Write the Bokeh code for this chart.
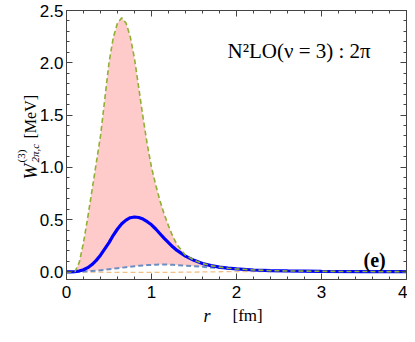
import math
from bokeh.plotting import figure
from bokeh.models import Range1d, LinearAxis, Label, ColumnDataSource, SingleIntervalTicker, NumeralTickFormatter
from bokeh.embed import file_html
from bokeh.resources import INLINE

# ---- data ----
r = [0.0, 0.05, 0.1, 0.15, 0.2, 0.25, 0.3, 0.35, 0.4, 0.45, 0.5, 0.55, 0.6, 0.65, 0.7,
     0.75, 0.8, 0.85, 0.9, 0.95, 1.0, 1.05, 1.1, 1.15, 1.2, 1.25, 1.3, 1.4, 1.5, 1.6,
     1.7, 1.8, 1.9, 2.0, 2.2, 2.4, 2.6, 2.8, 3.0, 3.5, 4.0]
upper = [0.0, 0.0, 0.003, 0.09, 0.28, 0.52, 0.78, 1.04, 1.30, 1.65, 2.0, 2.24, 2.38, 2.43, 2.38,
         2.25, 2.04, 1.76, 1.48, 1.22, 1.0, 0.83, 0.68, 0.55, 0.44, 0.34, 0.26, 0.16, 0.112, 0.08,
         0.06, 0.045, 0.035, 0.028, 0.018, 0.012, 0.009, 0.007, 0.005, 0.003, 0.002]
central = [0.0, 0.0, 0.002, 0.008, 0.02, 0.04, 0.07, 0.11, 0.16, 0.22, 0.28, 0.35, 0.41, 0.46, 0.495,
           0.518, 0.525, 0.52, 0.505, 0.48, 0.45, 0.41, 0.365, 0.32, 0.28, 0.24, 0.205, 0.15, 0.11, 0.08,
           0.06, 0.045, 0.035, 0.028, 0.018, 0.012, 0.009, 0.007, 0.005, 0.003, 0.002]
lower = [0.0, 0.0, 0.001, 0.002, 0.004, 0.006, 0.009, 0.012, 0.016, 0.02, 0.025, 0.03, 0.035, 0.04, 0.045,
         0.05, 0.054, 0.058, 0.062, 0.065, 0.067, 0.069, 0.07, 0.07, 0.069, 0.067, 0.065, 0.06, 0.054, 0.048,
         0.042, 0.037, 0.032, 0.027, 0.018, 0.012, 0.009, 0.007, 0.005, 0.003, 0.002]
other = [0.0, 0.0, -0.001, -0.001, -0.002, -0.002, -0.003, -0.003, -0.003, -0.004, -0.004, -0.004, -0.004, -0.005, -0.005,
         -0.005, -0.005, -0.005, -0.005, -0.005, -0.005, -0.005, -0.005, -0.005, -0.005, -0.004, -0.004, -0.003, -0.002, -0.001,
         0.0, 0.001, 0.002, 0.003, 0.003, 0.003, 0.003, 0.003, 0.003, 0.002, 0.002]

x_lim = (0, 4)
y_lim = (-0.073, 2.5)
x_ticks_step = 1
y_ticks_step = 0.5
panel_text = "N²LO(ν = 3) : 2π"
panel_tag = "(e)"

src = ColumnDataSource(dict(r=r, upper=upper, central=central, lower=lower, other=other))

AX = "#444444"
W, H = 407, 326
# plot box in canvas pixels (left, right, top, bottom)
BL, BR, BT, BB = 66, 406, 10, 279
sx = (BR - BL) / (x_lim[1] - x_lim[0])
sy = (BB - BT) / (y_lim[1] - y_lim[0])
xr = Range1d(x_lim[0] - BL / sx, x_lim[1] + (W - BR) / sx)
yr = Range1d(y_lim[0] - (H - BB) / sy, y_lim[1] + BT / sy)

p = figure(width=W, height=H, output_backend="svg", toolbar_location=None,
           x_range=xr, y_range=yr, x_axis_location=None, y_axis_location=None,
           min_border_left=0, min_border_right=0, min_border_top=0, min_border_bottom=0,
           title_location=None)
p.grid.visible = False
p.outline_line_color = None
p.border_fill_color = "white"
p.background_fill_color = "white"

p.varea(x="r", y1="lower", y2="upper", source=src, fill_color="#ffcaca", fill_alpha=1.0)
p.line(x="r", y="other", source=src, line_color="#f0c08a", line_width=1.3, line_dash="5 3")
p.line(x="r", y="lower", source=src, line_color="#6d8fc0", line_width=2, line_dash="5 3")
p.line(x="r", y="central", source=src, line_color="#0000ff", line_width=3.2)
p.line(x="r", y="upper", source=src, line_color="#8fb032", line_width=1.6, line_dash="5 3")

bottom = LinearAxis(fixed_location=y_lim[0], bounds=x_lim)
top = LinearAxis(fixed_location=y_lim[1], bounds=x_lim)
left = LinearAxis(fixed_location=x_lim[0], bounds=y_lim)
right = LinearAxis(fixed_location=x_lim[1], bounds=y_lim)
p.add_layout(bottom, "below")
p.add_layout(top, "above")
p.add_layout(left, "left")
p.add_layout(right, "right")

for ax in [bottom, top]:
    ax.ticker = SingleIntervalTicker(interval=x_ticks_step, num_minor_ticks=5)
for ax in [left, right]:
    ax.ticker = SingleIntervalTicker(interval=y_ticks_step, num_minor_ticks=5)
left.formatter = NumeralTickFormatter(format="0.0")

for ax in [bottom, left, top, right]:
    ax.major_tick_in = 6
    ax.major_tick_out = 0
    ax.minor_tick_in = 3
    ax.minor_tick_out = 0
    ax.axis_line_color = AX
    ax.major_tick_line_color = AX
    ax.minor_tick_line_color = AX
    ax.major_label_text_font = "Liberation Sans"
    ax.major_label_text_font_size = "17px"
    ax.major_label_text_color = "black"
for ax in [top, right]:
    ax.major_label_text_color = None
    ax.major_label_text_font_size = "1px"
    ax.major_label_standoff = 0
bottom.major_label_standoff = 6
left.major_label_standoff = 3

def lab(text, x, y, size, style="normal", angle=0.0):
    p.add_layout(Label(x=x, y=y, x_units="screen", y_units="screen", text=text, angle=angle,
                       text_font="Liberation Serif", text_font_size=size, text_font_style=style,
                       text_color="black", text_align="left", text_baseline="alphabetic"))

rot = math.pi / 2
# y-axis title  W^{(3)}_{2π,c}  [MeV]
lab("W", 30, 147, "19px", "italic", rot)
lab("(3)", 20, 164, "11px", "normal", rot)
lab("2π,c", 34, 164, "11px", "italic", rot)
lab("[MeV]", 30, 188, "16px", "normal", rot)
# x-axis title  r [fm]
lab("r", 203, 11, "18px", "italic")
lab("[fm]", 232, 11, "17px", "normal")
# in-plot annotations
lab(panel_text, 227, 276, "21px")
lab(panel_tag, 363, 67, "20px", "bold")

open("out.html", "w").write(file_html(p, INLINE))
